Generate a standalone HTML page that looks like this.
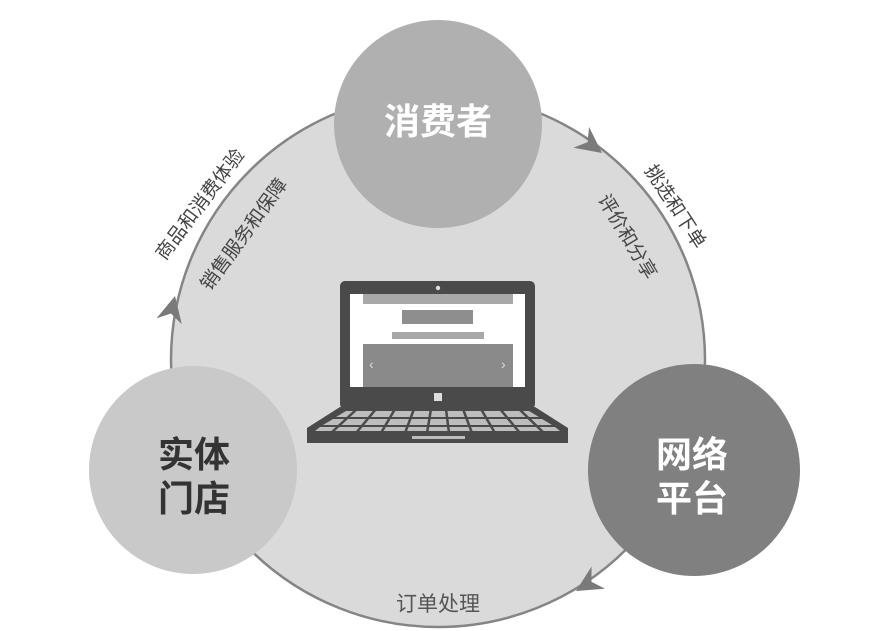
<!DOCTYPE html>
<html><head><meta charset="utf-8"><style>
html,body{margin:0;padding:0;background:#fff;width:887px;height:631px;overflow:hidden}
text{font-family:"Liberation Sans","Noto Sans CJK SC",sans-serif}
</style></head><body>
<svg width="887" height="631" viewBox="0 0 887 631" xmlns="http://www.w3.org/2000/svg">
<circle cx="438" cy="360" r="267" fill="#dadada" stroke="#858585" stroke-width="2.5"/>
<g fill="#7a7a7a">
<polygon points="0,0 -26,-13 -18,0 -26,13" transform="translate(602,153) rotate(37)"/>
<polygon points="0,0 -26,-13 -18,0 -26,13" transform="translate(175,296) rotate(-77)"/>
<polygon points="0,0 -26,-13 -18,0 -26,13" transform="translate(576,591) rotate(149)"/>
</g>
<circle cx="438" cy="124" r="104" fill="#b0b0b0"/>
<circle cx="193" cy="470" r="104" fill="#c9c9c9"/>
<circle cx="694" cy="470" r="106" fill="#808080"/>
<text x="438" y="134" font-size="36" font-weight="bold" fill="#fff" text-anchor="middle">消费者</text>
<text x="194" y="467" font-size="36" font-weight="bold" fill="#333" text-anchor="middle">实体</text>
<text x="194" y="511" font-size="36" font-weight="bold" fill="#333" text-anchor="middle">门店</text>
<text x="692" y="467" font-size="36" font-weight="bold" fill="#fff" text-anchor="middle">网络</text>
<text x="692" y="511" font-size="36" font-weight="bold" fill="#fff" text-anchor="middle">平台</text>
<g font-size="19" fill="#444" text-anchor="middle">
<text transform="translate(205,208) rotate(-53)">商品和消费体验</text>
<text transform="translate(249,238) rotate(-54)">销售服务和保障</text>
<text transform="translate(670,210) rotate(57)">挑选和下单</text>
<text transform="translate(622,240) rotate(59)">评价和分享</text>
<text x="438" y="611" font-size="21" fill="#555">订单处理</text>
</g>
<!-- laptop -->
<rect x="340" y="281" width="195" height="128" rx="5" fill="#4a4a4a"/>
<circle cx="438" cy="288" r="2.2" fill="#ddd"/>
<rect x="350" y="294" width="175" height="93" fill="#fff"/>
<rect x="363" y="294" width="150" height="10" fill="#a8a8a8"/>
<rect x="402" y="310" width="71" height="14" fill="#8e8e8e"/>
<rect x="392" y="332" width="92" height="7" fill="#a8a8a8"/>
<rect x="363" y="344" width="150" height="43" fill="#8a8a8a"/>
<text x="369" y="369" font-size="14" fill="#ddd">‹</text>
<text x="501" y="369" font-size="14" fill="#ddd">›</text>
<rect x="434" y="393" width="8" height="8" fill="#ddd"/>
<polygon points="340,407 535,407 568,428 568,443 307,443 307,428" fill="#4a4a4a"/>
<g fill="#bdbdbd">
<polygon points="346,411 529,411 539,417 336,417"/>
<polygon points="333,419 542,419 552,425 323,425"/>
<polygon points="320,427 555,427 560,431 315,431"/>
</g>
<g stroke="#4a4a4a" stroke-width="2.5">
<line x1="357" y1="409" x2="331" y2="433"/><line x1="376" y1="409" x2="356" y2="433"/>
<line x1="395" y1="409" x2="381" y2="433"/><line x1="414" y1="409" x2="405" y2="433"/>
<line x1="431" y1="409" x2="427" y2="433"/><line x1="446" y1="409" x2="449" y2="433"/>
<line x1="463" y1="409" x2="472" y2="433"/><line x1="481" y1="409" x2="495" y2="433"/>
<line x1="500" y1="409" x2="520" y2="433"/><line x1="519" y1="409" x2="544" y2="433"/>
</g>
<rect x="412" y="436" width="53" height="3" fill="#bdbdbd"/>
</svg>
</body></html>
